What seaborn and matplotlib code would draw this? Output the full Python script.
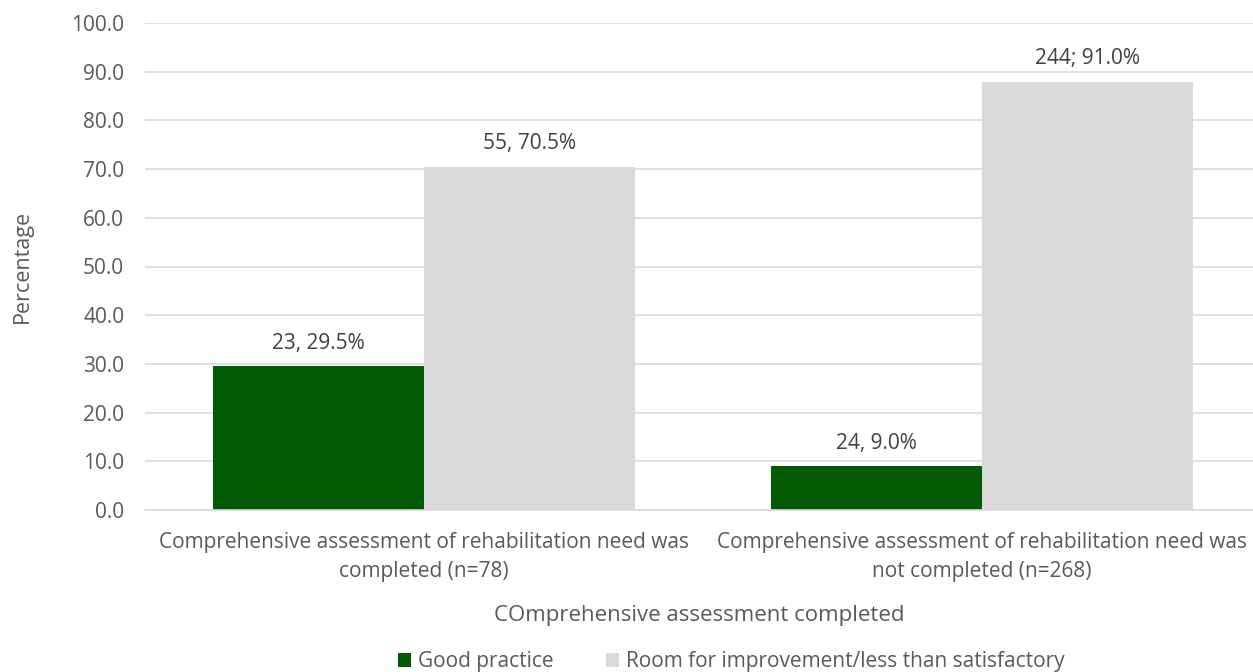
import matplotlib
matplotlib.use("Agg")
import matplotlib.pyplot as plt
import seaborn as sns
import pandas as pd

# data
categories = [
    "Comprehensive assessment of rehabilitation need was\ncompleted (n=78)",
    "Comprehensive assessment of rehabilitation need was\nnot completed (n=268)",
]
series = ["Good practice", "Room for improvement/less than satisfactory"]
good_practice = [29.5, 9.0]
room_for_improvement = [70.5, 87.9]
good_labels = ["23, 29.5%", "24, 9.0%"]
room_labels = ["55, 70.5%", "244; 91.0%"]

colors = {"Good practice": "#025A04", "Room for improvement/less than satisfactory": "#D9D9D9"}

df = pd.DataFrame({
    "category": categories * 2,
    "series": [series[0]] * 2 + [series[1]] * 2,
    "value": good_practice + room_for_improvement,
})

sns.set_style("white")
plt.rcParams["font.family"] = ["Open Sans", "DejaVu Sans"]

fig = plt.figure(figsize=(12.53, 6.72), dpi=100)
ax = fig.add_axes([145 / 1253, 1 - 510 / 672, (1253 - 145) / 1253, (510 - 23) / 672])

sns.barplot(data=df, x="category", y="value", hue="series", palette=colors,
            width=0.756, saturation=1, linewidth=0, ax=ax, order=categories, hue_order=series)

ax.set_ylim(0, 100)
ax.set_xlim(-0.5, 1.486)
ax.set_yticks(range(0, 101, 10))
ax.set_yticklabels([f"{v:.1f}" for v in range(0, 101, 10)], color="#595959", fontsize=15)
ax.tick_params(axis="y", length=0, pad=15)
ax.tick_params(axis="x", length=0, pad=15.5, labelsize=15, labelcolor="#595959")
for t in ax.get_xticklabels():
    t.set_linespacing(1.5)
ax.grid(axis="y", color="#D9D9D9", linewidth=1.2)
ax.set_axisbelow(True)
for s in ["top", "right", "left"]:
    ax.spines[s].set_visible(False)
ax.spines["bottom"].set_color("#D9D9D9")
ax.spines["bottom"].set_linewidth(1.2)

# value labels above the bars
for container, lab in zip(ax.containers, [good_labels, room_labels]):
    ax.bar_label(container, labels=lab, padding=9, color="#404040", fontsize=15)

ax.set_xlabel("COmprehensive assessment completed", fontsize=16, color="#595959")
ax.xaxis.set_label_coords(0.5, -0.195)
ax.set_ylabel("Percentage", fontsize=15.5, color="#595959")
ax.yaxis.set_label_coords(-0.101, 0.5)

ax.legend(loc="center", bbox_to_anchor=(0.529, -0.312), ncol=2, frameon=False,
          fontsize=15, handlelength=0.62, handleheight=0.62, handletextpad=0.34,
          columnspacing=2.5, labelcolor="#595959")

fig.savefig("out.png", dpi=100)
